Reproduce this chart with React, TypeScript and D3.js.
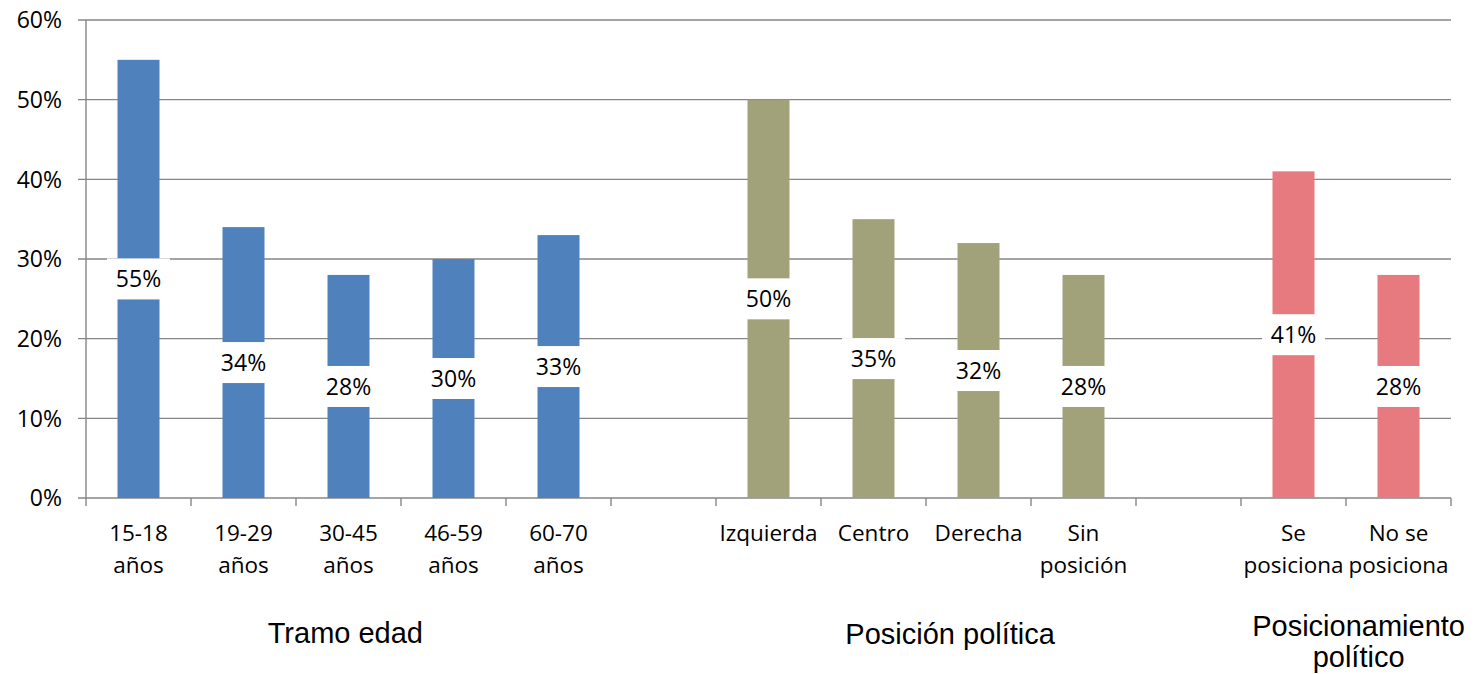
import React from "react";
import * as d3 from "d3";

// categories (empty strings are the gaps between groups)
const categories = [
  "15-18 años",
  "19-29 años",
  "30-45 años",
  "46-59 años",
  "60-70 años",
  "",
  "Izquierda",
  "Centro",
  "Derecha",
  "Sin posición",
  "",
  "Se posiciona",
  "No se posiciona",
];
// how each category label wraps
const categoryLines = [
  ["15-18", "años"],
  ["19-29", "años"],
  ["30-45", "años"],
  ["46-59", "años"],
  ["60-70", "años"],
  [],
  ["Izquierda"],
  ["Centro"],
  ["Derecha"],
  ["Sin", "posición"],
  [],
  ["Se", "posiciona"],
  ["No se", "posiciona"],
];
const values = [0.55, 0.34, 0.28, 0.3, 0.33, null, 0.5, 0.35, 0.32, 0.28, null, 0.41, 0.28];
const groupOf = [0, 0, 0, 0, 0, -1, 1, 1, 1, 1, -1, 2, 2];
const groupNames = [["Tramo edad"], ["Posición política"], ["Posicionamiento", "político"]];
const groupColors = ["#4f81bd", "#a2a27a", "#e67a7e"];
const yTicks = [0, 0.1, 0.2, 0.3, 0.4, 0.5, 0.6];

const W = 1474;
const H = 674;
const left = 86;
const right = 1451;
const top = 20;
const bottom = 498;
// where each group title sits, in slot units from the left axis
const groupLabelAt = [2.47, 8.23, 12.12];
const groupLabelY = [643, 644, 636];

const axisColor = "#868686";
const labelFont = "'Open Sans', sans-serif";
const titleFont = "'Liberation Sans', Arial, sans-serif";

const App = () => {
  const idx = categories.map((_, i) => String(i));
  const x = d3.scaleBand().domain(idx).range([left, right]).paddingInner(0.6).paddingOuter(0.3);
  const y = d3.scaleLinear().domain([0, 0.6]).range([bottom, top]);
  const fmt = d3.format(".0%");
  const step = x.step();
  const slotW = (right - left) / categories.length;

  const boxW = 63;
  const boxH = 41;

  return (
    <svg width={W} height={H} style={{ position: "absolute", left: 0, top: 0, background: "#fff" }}>
      {/* gridlines and y ticks */}
      {yTicks.map((t) => (
        <g key={t}>
          <line x1={left - 8} x2={right} y1={y(t)} y2={y(t)} stroke={axisColor} strokeWidth={1.4} />
          <text
            x={62}
            y={y(t)}
            dy="0.36em"
            textAnchor="end"
            fontFamily={labelFont}
            fontSize={23}
            fill="#000"
          >
            {fmt(t)}
          </text>
        </g>
      ))}
      {/* y axis */}
      <line x1={left} x2={left} y1={top} y2={bottom} stroke={axisColor} strokeWidth={1.4} />
      {/* x ticks at slot boundaries */}
      {d3.range(categories.length + 1).map((i) => (
        <line
          key={i}
          x1={left + i * slotW}
          x2={left + i * slotW}
          y1={bottom}
          y2={bottom + 8}
          stroke={axisColor}
          strokeWidth={1.4}
        />
      ))}

      {/* bars */}
      {values.map((v, i) =>
        v == null ? null : (
          <rect
            key={i}
            x={x(String(i))}
            y={y(v)}
            width={x.bandwidth()}
            height={y(0) - y(v)}
            fill={groupColors[groupOf[i]]}
          />
        )
      )}

      {/* value labels */}
      {values.map((v, i) => {
        if (v == null) return null;
        const cx = (x(String(i)) as number) + x.bandwidth() / 2;
        const cy = y(v / 2);
        return (
          <g key={i}>
            <rect x={cx - boxW / 2} y={cy - boxH / 2} width={boxW} height={boxH} fill="#fff" />
            <text
              x={cx}
              y={cy}
              dy="0.36em"
              textAnchor="middle"
              fontFamily={labelFont}
              fontSize={23}
              fill="#000"
            >
              {fmt(v)}
            </text>
          </g>
        );
      })}

      {/* category labels */}
      {categoryLines.map((lines, i) => {
        const cx = (x(String(i)) as number) + x.bandwidth() / 2;
        return (
          <text key={i} textAnchor="middle" fontFamily={labelFont} fontSize={22.5} fill="#000">
            {lines.map((l, j) => (
              <tspan key={j} x={cx} y={541 + j * 32}>
                {l}
              </tspan>
            ))}
          </text>
        );
      })}

      {/* group titles */}
      {groupNames.map((lines, g) => (
        <text key={g} textAnchor="middle" fontFamily={titleFont} fontSize={29} fill="#000">
          {lines.map((l, j) => (
            <tspan key={j} x={left + groupLabelAt[g] * step} y={groupLabelY[g] + j * 31}>
              {l}
            </tspan>
          ))}
        </text>
      ))}
    </svg>
  );
};

export default App;
